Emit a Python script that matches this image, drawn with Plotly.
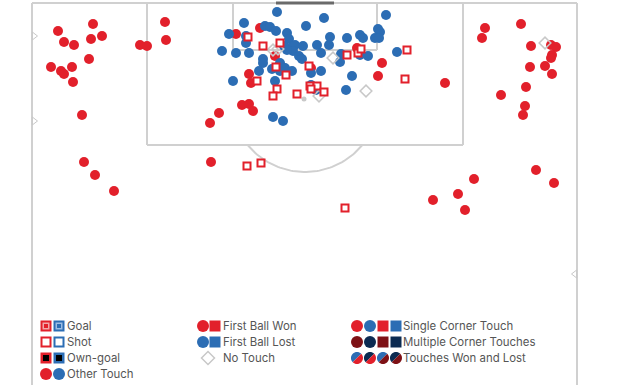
import numpy as np
import plotly.graph_objects as go

# ---------------- data (positions in pitch-pixel units) ----------------
won_x = [58, 93, 64, 74, 91, 102, 89, 51, 61, 64, 72, 73, 82, 84, 95, 114, 140, 147, 165, 166,
         485, 482, 521, 531, 551, 556, 552, 551, 530, 545, 552, 445, 526, 501, 525, 523, 536, 554,
         474, 458, 433, 465,
         236, 260, 275, 311, 357, 382, 378, 249, 251, 242, 249, 253, 219, 210, 211]
won_y = [31, 24, 42, 45, 39, 36, 59, 67, 71, 74, 67, 82, 115, 162, 175, 191, 45, 46, 22, 40,
         28, 38, 24, 46, 45, 47, 55, 58, 67, 66, 74, 83, 87, 95, 106, 115, 170, 183,
         179, 194, 200, 210,
         34, 28, 56, 68, 48, 63, 76, 74, 83, 105, 104, 111, 113, 123, 162]

lost_x = [277, 324, 386, 244, 265, 270, 276, 306, 229, 246, 287, 289, 330, 347, 360, 363, 378, 380,
          375, 379, 246, 222, 236, 249, 284, 292, 295, 303, 317, 329, 293, 287, 321, 299, 302, 341,
          360, 368, 397, 340, 263, 263, 280, 272, 282, 285, 280, 292, 259, 311, 321, 352, 233, 275,
          311, 316, 346, 273, 283]
lost_y = [12, 18, 15, 23, 26, 27, 31, 26, 34, 36, 33, 39, 37, 38, 35, 38, 29, 32,
          38, 38, 43, 51, 53, 53, 46, 47, 45, 46, 45, 45, 51, 50, 53, 56, 59, 54,
          55, 56, 52, 62, 59, 63, 63, 69, 67, 68, 71, 71, 71, 73, 71, 76, 81, 81,
          85, 90, 90, 117, 121]

shot_x = [248, 263, 280, 276, 286, 257, 309, 277, 273, 297, 310, 317, 311, 324, 347, 358, 361,
          407, 405, 247, 261, 345]
shot_y = [37, 46, 43, 67, 75, 81, 66, 89, 96, 94, 86, 86, 89, 92, 55, 53, 49,
          50, 79, 166, 163, 208]

notouch_x = [333, 366, 273, 278, 319, 545]
notouch_y = [58, 91, 50, 49, 96, 43]

dot_x = [304]
dot_y = [99]

legend_col1 = ["Goal", "Shot", "Own-goal", "Other Touch"]
legend_col2 = ["First Ball Won", "First Ball Lost", "No Touch"]
legend_col3 = ["Single Corner Touch", "Multiple Corner Touches", "Touches Won and Lost"]

RED = "#E2202B"
BLUE = "#2C6DB4"
DRED = "#7E1116"
NAVY = "#0C2B52"
PINK = "#F2A7AA"
LBLUE = "#9DBDE3"
LINE = "#D0D0D0"
TXT = "#555555"

fig = go.Figure()

shapes = []
def line(x0, y0, x1, y1, color=LINE, w=2):
    shapes.append(dict(type="line", x0=x0, y0=y0, x1=x1, y1=y1, xref="x", yref="y",
                       line=dict(color=color, width=w), layer="below"))

# pitch
line(32, 3, 577, 3)
line(32, 3, 32, 385)
line(577, 3, 577, 385)
line(147, 3, 147, 145); line(463, 3, 463, 145); line(147, 145, 463, 145)
line(233, 3, 233, 50); line(377, 3, 377, 50); line(233, 50, 377, 50)
line(276, 3, 334, 3, color="#6A6A6A", w=3)

# penalty arc
cx, cy, r = 305, 97.5, 74.5
t0 = np.arccos((145 - cy) / r)
th = np.linspace(-t0, t0, 60)
fig.add_trace(go.Scatter(x=cx + r * np.sin(th), y=cy + r * np.cos(th), mode="lines",
                         line=dict(color=LINE, width=2), hoverinfo="skip", showlegend=False))

# side triangles
fig.add_trace(go.Scatter(x=[34, 34], y=[36, 121], mode="markers",
                         marker=dict(symbol="triangle-right-open", size=7, color="#C8C8C8", line=dict(width=1)),
                         hoverinfo="skip", showlegend=False))
fig.add_trace(go.Scatter(x=[575], y=[274], mode="markers",
                         marker=dict(symbol="triangle-left-open", size=7, color="#C8C8C8", line=dict(width=1)),
                         hoverinfo="skip", showlegend=False))

# data
fig.add_trace(go.Scatter(x=won_x, y=won_y, mode="markers",
                         marker=dict(symbol="circle", size=10, color=RED, line=dict(width=0)),
                         showlegend=False))
fig.add_trace(go.Scatter(x=lost_x, y=lost_y, mode="markers",
                         marker=dict(symbol="circle", size=10, color=BLUE, line=dict(width=0)),
                         showlegend=False))
fig.add_trace(go.Scatter(x=notouch_x, y=notouch_y, mode="markers",
                         marker=dict(symbol="diamond-open", size=9, color="#C8C8C8", line=dict(width=1.5)),
                         showlegend=False))
fig.add_trace(go.Scatter(x=dot_x, y=dot_y, mode="markers",
                         marker=dict(symbol="circle", size=5, color="#C8C8C8"), showlegend=False))
fig.add_trace(go.Scatter(x=shot_x, y=shot_y, mode="markers",
                         marker=dict(symbol="square", size=7, color="white", line=dict(color=RED, width=2)),
                         showlegend=False))

# ---------------- legend ----------------
rows = [326, 342, 358, 374]
def mk(xs, ys, symbol, size, color, lc=None, lw=0):
    fig.add_trace(go.Scatter(x=xs, y=ys, mode="markers", hoverinfo="skip", showlegend=False,
                             marker=dict(symbol=symbol, size=size, color=color,
                                         line=dict(color=lc or color, width=lw))))

# col 1
mk([46], [rows[0]], "square", 11, RED); mk([59], [rows[0]], "square", 11, BLUE)
mk([46], [rows[0]], "square", 7, PINK); mk([59], [rows[0]], "square", 7, LBLUE)
mk([46], [rows[0]], "square", 4, RED); mk([59], [rows[0]], "square", 4, BLUE)
mk([46], [rows[1]], "square", 9, "white", RED, 2); mk([59], [rows[1]], "square", 9, "white", BLUE, 2)
mk([46], [rows[2]], "square", 11, RED); mk([59], [rows[2]], "square", 11, BLUE)
mk([46, 59], [rows[2]] * 2, "square", 6, "black")
mk([46], [rows[3]], "circle", 12, RED); mk([59], [rows[3]], "circle", 12, BLUE)

# col 2
mk([203], [rows[0]], "circle", 12, RED); mk([215], [rows[0]], "square", 11, RED)
mk([203], [rows[1]], "circle", 12, BLUE); mk([215], [rows[1]], "square", 11, BLUE)
mk([208], [rows[2]], "diamond-open", 10, "#C8C8C8", "#C8C8C8", 1.5)

# col 3
mk([357], [rows[0]], "circle", 12, RED); mk([370], [rows[0]], "circle", 12, BLUE)
mk([383], [rows[0]], "square", 11, RED); mk([396], [rows[0]], "square", 11, BLUE)
mk([357], [rows[1]], "circle", 12, DRED); mk([370], [rows[1]], "circle", 12, NAVY)
mk([383], [rows[1]], "square", 11, DRED); mk([396], [rows[1]], "square", 11, NAVY)

def half_disk(cx, cy, r, a0, color):
    k = 0.5523 * r
    d = f"M {cx + r*np.cos(a0):.2f},{cy + r*np.sin(a0):.2f}"
    for i in range(2):
        t1 = a0 + i * np.pi / 2
        t2 = t1 + np.pi / 2
        p0 = (cx + r*np.cos(t1), cy + r*np.sin(t1))
        p3 = (cx + r*np.cos(t2), cy + r*np.sin(t2))
        p1 = (p0[0] - k*np.sin(t1), p0[1] + k*np.cos(t1))
        p2 = (p3[0] + k*np.sin(t2), p3[1] - k*np.cos(t2))
        d += f" C {p1[0]:.2f},{p1[1]:.2f} {p2[0]:.2f},{p2[1]:.2f} {p3[0]:.2f},{p3[1]:.2f}"
    d += " Z"
    shapes.append(dict(type="path", path=d, xref="x", yref="y", fillcolor=color,
                       line=dict(width=0), layer="above"))

split = [(357, BLUE, RED), (370, NAVY, RED), (383, BLUE, DRED), (396, NAVY, DRED)]
for sx, c1, c2 in split:
    half_disk(sx, rows[2], 6, np.pi * 3 / 4, c1)   # lower-left half
    half_disk(sx, rows[2], 6, -np.pi / 4, c2)      # upper-right half

annotations = []
def txt(x, y, s):
    annotations.append(dict(x=x, y=y, xref="x", yref="y", text=s, showarrow=False,
                            xanchor="left", yanchor="middle",
                            font=dict(family="Inter, Roboto, sans-serif", size=11.4, color=TXT)))
for i, s in enumerate(legend_col1):
    txt(65, rows[i], s)
for i, s in enumerate(legend_col2):
    txt(221, rows[i], s)
for i, s in enumerate(legend_col3):
    txt(401, rows[i], s)

fig.update_layout(
    width=624, height=385, margin=dict(l=0, r=0, t=0, b=0),
    paper_bgcolor="white", plot_bgcolor="white",
    xaxis=dict(range=[0, 624], visible=False, fixedrange=True),
    yaxis=dict(range=[385, 0], visible=False, fixedrange=True),
    shapes=shapes, annotations=annotations, showlegend=False,
)
fig.write_html("out.html", config={"displayModeBar": False},
               post_script="document.body.style.margin='0px';document.body.style.overflow='hidden';")
